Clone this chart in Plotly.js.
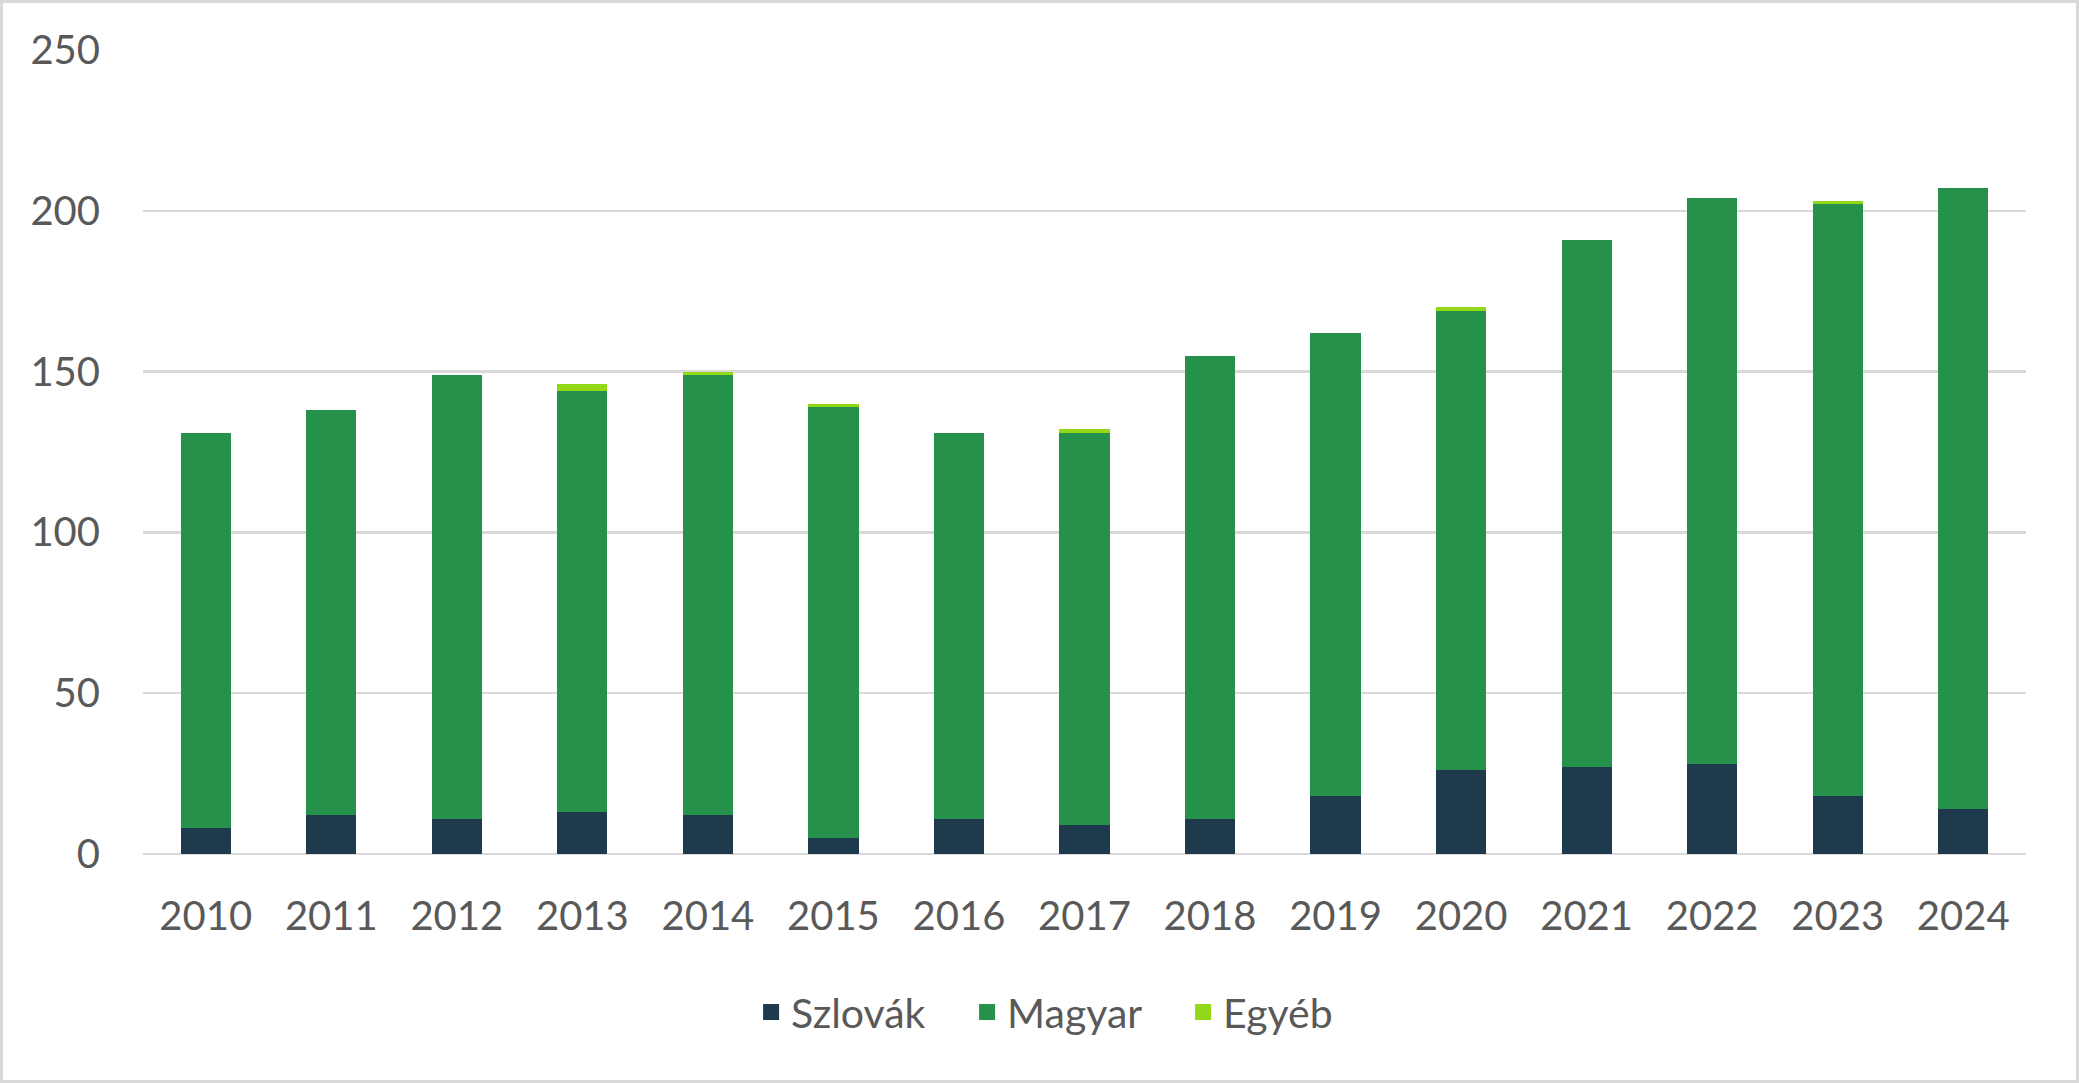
<html>
<head>
<script src="https://cdn.plot.ly/plotly-3.0.1.min.js"></script>
<style>
  body { margin: 0; background: #fff; }
  #chart { width: 2079px; height: 1083px; }
  #frame { position: absolute; left: 0; top: 0; width: 2079px; height: 1083px;
           box-sizing: border-box; border: 3px solid #d9d9d9; pointer-events: none; }
</style>
</head>
<body>
<div id="chart"></div>
<div id="frame"></div>
<script>
// values
let years = ['2010','2011','2012','2013','2014','2015','2016','2017','2018','2019','2020','2021','2022','2023','2024'];
let szlovak = [8, 12, 11, 13, 12, 5, 11, 9, 11, 18, 26, 27, 28, 18, 14];
let magyar  = [123, 126, 138, 131, 137, 134, 120, 122, 144, 144, 143, 164, 176, 184, 193];
let egyeb   = [0, 0, 0, 2, 1, 1, 0, 1, 0, 0, 1, 0, 0, 1, 0];
let yTicks  = [0, 50, 100, 150, 200, 250];

let names  = ['Szlovák', 'Magyar', 'Egyéb'];
let colors = ['#1f3a4d', '#26914a', '#92d816'];

let fontFam = 'Lato, "Open Sans", sans-serif';
let textCol = '#595959';

let series = [szlovak, magyar, egyeb];
let data = [];
series.forEach((vals, i) => {
  data.push({ x: years, y: vals, type: 'bar', name: names[i],
              marker: { color: colors[i] }, showlegend: false, legendgroup: names[i] });
});
// legend-only entries, so the key squares can be drawn bigger than the bar default
names.forEach((nm, i) => {
  data.push({ x: [null], y: [null], type: 'scatter', mode: 'markers', name: nm,
              legendgroup: nm,
              marker: { symbol: 'square', size: 16, color: colors[i] } });
});

let layout = {
  width: 2079,
  height: 1083,
  margin: { l: 143, r: 53, t: 50, b: 229 },
  paper_bgcolor: '#fff',
  plot_bgcolor: '#fff',
  barmode: 'stack',
  bargap: 0.6,
  font: { family: fontFam, size: 40, color: textCol },
  xaxis: {
    type: 'category',
    showgrid: false,
    showline: false,
    zeroline: false,
    ticks: 'outside',
    ticklen: 27,
    tickcolor: 'rgba(0,0,0,0)',
    tickfont: { family: fontFam, size: 40, color: textCol }
  },
  yaxis: {
    range: [0, 250],
    tickvals: yTicks,
    showgrid: true,
    gridcolor: '#d9d9d9',
    gridwidth: 2.5,
    zeroline: true,
    zerolinecolor: '#d9d9d9',
    zerolinewidth: 2.5,
    showline: false,
    ticks: 'outside',
    ticklen: 34,
    tickcolor: 'rgba(0,0,0,0)',
    tickfont: { family: fontFam, size: 40, color: textCol }
  },
  showlegend: true,
  legend: {
    orientation: 'h',
    traceorder: 'normal',
    x: 0.495,
    xanchor: 'center',
    y: -0.197,
    yanchor: 'middle',
    font: { family: fontFam, size: 41, color: textCol },
    itemwidth: 30,
    entrywidth: 171,
    entrywidthmode: 'pixels'
  }
};

let config = { staticPlot: true, displayModeBar: false };

Plotly.newPlot('chart', data, layout, config);
</script>
</body>
</html>
